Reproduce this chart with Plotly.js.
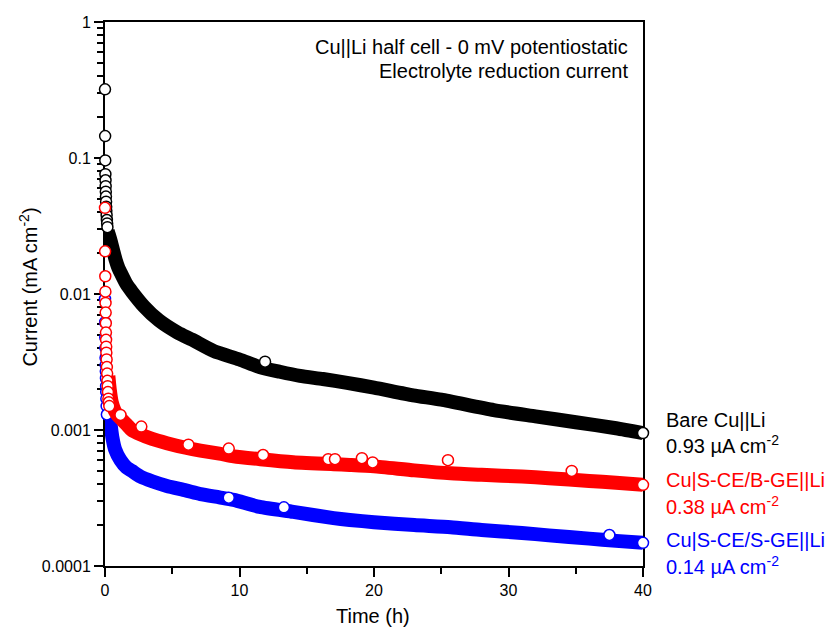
<!DOCTYPE html>
<html><head><meta charset="utf-8">
<script src="https://cdn.plot.ly/plotly-3.0.1.min.js"></script>
<style>html,body{margin:0;padding:0;background:#fff;}#chart{width:831px;height:635px;}</style>
</head><body><div id="chart"></div>
<script>
// ---- Bare Cu||Li (black) ----
const bareBandT = [0.2, 0.3, 0.45, 0.6, 0.8, 1.0, 1.2, 1.6, 2.0, 2.9, 4.0, 5.4, 6.5, 8.1, 10, 11.5, 13, 14.5, 16.2, 18, 20, 22.9, 25, 28.9, 32, 35, 38, 40];
const bareBandI = [0.029, 0.027, 0.024, 0.021, 0.0177, 0.0155, 0.0141, 0.0118, 0.0104, 0.0081, 0.0064, 0.0052, 0.0046, 0.0038, 0.0033, 0.0029, 0.00268, 0.0025, 0.00237, 0.00222, 0.00205, 0.0018, 0.00167, 0.0014, 0.00126, 0.00114, 0.00103, 0.00095];
const bareDotT = [0, 0.01, 0.02, 0.03, 0.04, 0.05, 0.06, 0.07, 0.08, 0.09, 0.1, 0.12, 0.14, 0.16, 0.18, 11.9, 40];
const bareDotI = [0.32, 0.145, 0.096, 0.076, 0.0686, 0.062, 0.0565, 0.052, 0.0477, 0.0438, 0.041, 0.038, 0.035, 0.033, 0.031, 0.00318, 0.00095];

// ---- Cu|S-CE/B-GE||Li (red) ----
const bgeBandT = [0.25, 0.35, 0.5, 0.7, 0.9, 1.15, 1.6, 2.0, 2.64, 3.5, 4.6, 6, 7.1, 8.5, 9.57, 11.55, 14, 17, 18.2, 20, 23, 25.7, 28, 31, 33, 36, 38, 40];
const bgeBandI = [0.0025, 0.002, 0.0016, 0.0014, 0.0013, 0.00122, 0.0011, 0.001, 0.00093, 0.00086, 0.0008, 0.00074, 0.000705, 0.00067, 0.00064, 0.00061, 0.00058, 0.00056, 0.000553, 0.00054, 0.000505, 0.00048, 0.000468, 0.000455, 0.000442, 0.000422, 0.00041, 0.000395];
const bgeDotT = [0, 0.01, 0.02, 0.03, 0.04, 0.05, 0.06, 0.07, 0.08, 0.09, 0.1, 0.12, 0.14, 0.16, 0.18, 0.2, 0.22, 0.25, 0.28, 0.32, 1.15, 2.7, 6.2, 9.2, 11.75, 16.6, 17.1, 19.1, 19.9, 25.5, 34.7, 40];
const bgeDotI = [0.043, 0.0206, 0.0135, 0.0104, 0.0086, 0.0073, 0.0061, 0.0052, 0.0046, 0.0041, 0.0037, 0.0033, 0.0029, 0.0026, 0.0023, 0.0021, 0.0019, 0.0017, 0.0016, 0.0015, 0.00129, 0.00106, 0.00078, 0.00073, 0.000655, 0.00061, 0.00061, 0.00062, 0.000577, 0.0006, 0.0005, 0.000395];

// ---- Cu|S-CE/S-GE||Li (blue) ----
const sgeBandT = [0.15, 0.25, 0.4, 0.55, 0.75, 1.15, 1.6, 2.0, 2.64, 3.5, 4.6, 6, 7.1, 8.5, 9.57, 11.5, 14, 17, 18.2, 20, 23, 25.7, 28, 31, 33, 36, 38, 40];
const sgeBandI = [0.0017, 0.0014, 0.00113, 0.00088, 0.00072, 0.0006, 0.00053, 0.0005, 0.000454, 0.00042, 0.000388, 0.00036, 0.000338, 0.00032, 0.000306, 0.000272, 0.00025, 0.000225, 0.000218, 0.00021, 0.0002, 0.000193, 0.000184, 0.000175, 0.000168, 0.000159, 0.000153, 0.000148];
const sgeDotT = [0, 0.01, 0.02, 0.03, 0.04, 0.05, 0.06, 0.07, 0.08, 0.09, 0.1, 0.12, 0.14, 9.2, 13.3, 37.5, 40];
const sgeDotI = [0.0092, 0.0062, 0.0048, 0.004, 0.0034, 0.003, 0.0027, 0.0024, 0.0021, 0.0019, 0.0017, 0.0015, 0.0013, 0.000318, 0.00027, 0.000169, 0.000148];

// ---- ticks & labels ----
const yTickVals = [0.0001, 0.001, 0.01, 0.1, 1];
const yTickText = ['0.0001', '0.001', '0.01', '0.1', '1'];
const xTickVals = [0, 10, 20, 30, 40];
const xMinorVals = [5, 15, 25, 35];
const seriesNames = ['Bare Cu||Li', 'Cu|S-CE/B-GE||Li', 'Cu|S-CE/S-GE||Li'];
const seriesValues = ['0.93 µA cm<sup>-2</sup>', '0.38 µA cm<sup>-2</sup>', '0.14 µA cm<sup>-2</sup>'];
const seriesColors = ['#000000', '#ff0000', '#0000ff'];
const noteLines = ['Cu||Li half cell - 0 mV potentiostatic', 'Electrolyte reduction current'];

const yMinor = [];
for (let e = -4; e < 0; e++) for (let d = 2; d <= 9; d++) yMinor.push(d * Math.pow(10, e));

const FONT = 'Arial, "Liberation Sans", sans-serif';
const TXT = 20;

function band(t, v, c) {
  return {x: t, y: v, mode: 'lines', type: 'scatter', line: {color: c, width: 14, shape: 'spline', smoothing: 0.6}, hoverinfo: 'skip', showlegend: false, cliponaxis: false};
}
function dots(t, v, c) {
  return {x: t, y: v, mode: 'markers', type: 'scatter', marker: {symbol: 'circle', size: 11, color: '#ffffff', line: {color: c, width: 1.5}}, showlegend: false, cliponaxis: false};
}

const data = [
  band(bareBandT, bareBandI, seriesColors[0]), dots(bareDotT, bareDotI, seriesColors[0]),
  band(sgeBandT, sgeBandI, seriesColors[2]), dots(sgeDotT, sgeDotI, seriesColors[2]),
  band(bgeBandT, bgeBandI, seriesColors[1]), dots(bgeDotT, bgeDotI, seriesColors[1])
];

const L = 104.5, R = 643, T = 22, B = 566;
const px = xp => (xp - L) / (R - L);
const py = yp => (B - yp) / (B - T);

const ann = [];
ann.push({text: noteLines[0], x: px(630), y: py(47), xref: 'paper', yref: 'paper', xanchor: 'right', yanchor: 'middle', showarrow: false, font: {size: TXT, color: '#000', family: FONT}});
ann.push({text: noteLines[1], x: px(630), y: py(71), xref: 'paper', yref: 'paper', xanchor: 'right', yanchor: 'middle', showarrow: false, font: {size: TXT, color: '#000', family: FONT}});
const nameY = [420, 480, 540], valY = [444, 505, 565];
for (let i = 0; i < 3; i++) {
  ann.push({text: seriesNames[i], x: px(664), y: py(nameY[i]), xref: 'paper', yref: 'paper', xanchor: 'left', yanchor: 'middle', showarrow: false, font: {size: TXT, color: seriesColors[i], family: FONT}});
  ann.push({text: seriesValues[i], x: px(664), y: py(valY[i]), xref: 'paper', yref: 'paper', xanchor: 'left', yanchor: 'middle', showarrow: false, font: {size: TXT, color: seriesColors[i], family: FONT}});
}
ann.push({text: 'Time (h)', x: px(373), y: py(616), xref: 'paper', yref: 'paper', xanchor: 'center', yanchor: 'middle', showarrow: false, font: {size: TXT, color: '#000', family: FONT}});
ann.push({text: 'Current (mA cm<sup>-2</sup>)', x: px(27), y: py(287), xref: 'paper', yref: 'paper', xanchor: 'center', yanchor: 'middle', textangle: -90, showarrow: false, font: {size: TXT, color: '#000', family: FONT}});

const layout = {
  width: 831, height: 635,
  margin: {l: L, r: 831 - R, t: T, b: 635 - B, pad: 0},
  paper_bgcolor: '#fff', plot_bgcolor: '#fff',
  font: {family: FONT, color: '#000', size: 16},
  showlegend: false,
  xaxis: {
    range: [0, 40], tickmode: 'array', tickvals: xTickVals, ticktext: xTickVals.map(String),
    ticks: 'outside', ticklen: 9, tickwidth: 2, tickcolor: '#000',
    minor: {tickmode: 'array', tickvals: xMinorVals, ticks: 'outside', ticklen: 6, tickwidth: 2, tickcolor: '#000', showgrid: false},
    showline: true, linewidth: 2, linecolor: '#000', mirror: true, showgrid: false, zeroline: false,
    tickfont: {size: 16, family: FONT}, layer: 'below traces'
  },
  yaxis: {
    type: 'log', range: [-4, 0], tickmode: 'array', tickvals: yTickVals, ticktext: yTickText,
    ticks: 'outside', ticklen: 9, tickwidth: 2, tickcolor: '#000',
    minor: {tickmode: 'array', tickvals: yMinor, ticks: 'outside', ticklen: 6, tickwidth: 2, tickcolor: '#000', showgrid: false},
    showline: true, linewidth: 2, linecolor: '#000', mirror: true, showgrid: false, zeroline: false,
    tickfont: {size: 16, family: FONT}, layer: 'below traces'
  },
  annotations: ann
};

Plotly.newPlot('chart', data, layout, {staticPlot: true, displayModeBar: false});
</script></body></html>
